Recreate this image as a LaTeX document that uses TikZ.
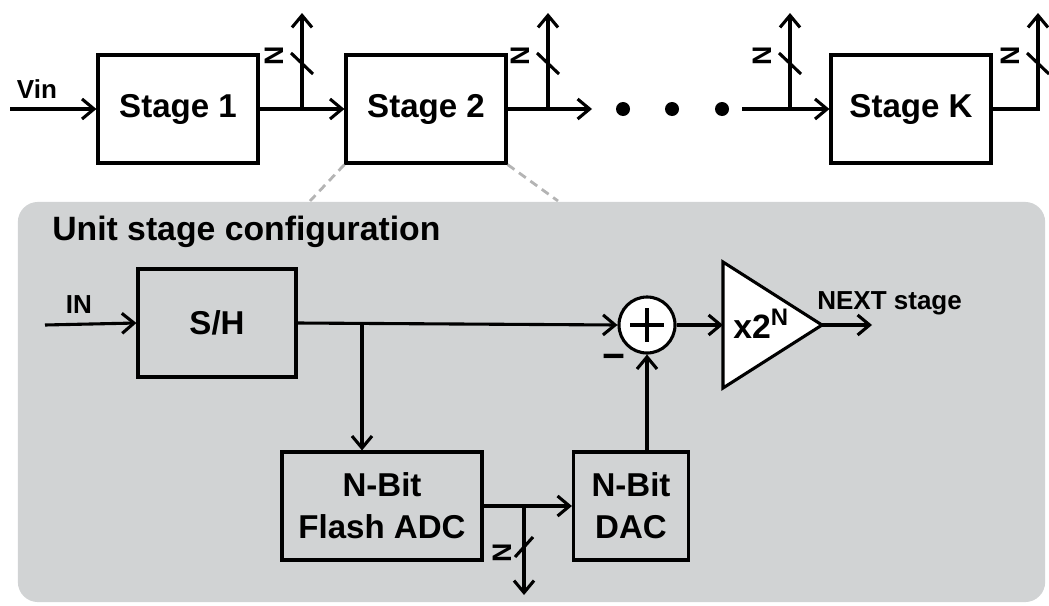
\documentclass[tikz,border=0pt]{standalone}
\usepackage{fontspec}
\setmainfont{Liberation Sans}
\usetikzlibrary{positioning,arrows.meta}
\definecolor{panelgray}{RGB}{209,211,212}
\definecolor{dashgray}{RGB}{180,180,180}

\begin{document}
\begin{tikzpicture}[
    x=0.025cm, y=-0.025cm,
    wire/.style={line width=2.2pt},
    sig/.style={wire, -{Straight Barb[length=3mm, width=5mm]}},
    blk/.style={draw, line width=2.2pt, minimum height=2.7cm, align=center,
        font=\fontsize{23.5}{30}\selectfont\bfseries},
    stagebox/.style={blk, fill=white, minimum width=4cm},
    lbl/.style={font=\fontsize{18.5}{20}\selectfont\bfseries, inner sep=0pt},
    nlab/.style={rotate=90, font=\fontsize{19}{19}\selectfont\bfseries, inner sep=0pt},
    dot/.style={circle, fill=black, minimum size=0.35cm, inner sep=0pt}
]
\useasboundingbox (0,0) rectangle (1049,605);

% pipeline
\node[stagebox] (s1) at (178,109) {Stage 1};
\node[stagebox] (s2) at (426,109) {Stage 2};
\node[stagebox] (sk) at (911,109) {Stage K};
\coordinate (vin) at (10,109);
\coordinate (top) at (0,13);
\coordinate (j1) at (302,109);
\coordinate (j2) at (548,109);
\coordinate (j3) at (790,109);
\coordinate (jk) at (1038,109);
\coordinate (dotsin) at (592,109);
\coordinate (dotsout) at (742,109);
\node[dot] (d1) at (623,109) {};
\node[dot] (d2) at (672,109) {};
\node[dot] (d3) at (722,109) {};

\node[lbl] (vinlbl) at (37,89) {Vin};
\draw[sig] (vin) -- (s1.west);
\draw[sig] (s1.east) -- (s2.west);
\draw[sig] (s2.east) -- (dotsin);
\draw[sig] (dotsout) -- (sk.west);
\draw[sig] (sk.east) -- (jk) -- (jk |- top);
\foreach \j in {j1,j2,j3} {
    \draw[sig] (\j) -- (\j |- top);
}
\foreach \j in {j1,j2,j3,jk} {
    \draw[wire] ([shift={(-11,-56)}]\j) -- ([shift={(11,-35)}]\j);
    \node[nlab] at ([shift={(-28,-53)}]\j) {N};
}

% zoom lines
\coordinate (pl) at (310,201);
\coordinate (pr) at (558,201);
\draw[dashgray, line width=2pt, dash pattern=on 6pt off 4pt] (s2.south west) -- (pl);
\draw[dashgray, line width=2pt, dash pattern=on 6pt off 4pt] (s2.south east) -- (pr);

% unit stage
\node[fill=panelgray, rounded corners=0.5cm, minimum width=25.675cm,
    minimum height=10cm, inner sep=0pt] (panel) at (531.5,402) {};
\node[anchor=base west, inner sep=0pt, font=\fontsize{24}{28}\selectfont\bfseries]
    (title) at (52,240) {Unit stage configuration};

\node[blk, minimum width=3.95cm] (sh) at (217,323) {S/H};
\node[blk, minimum width=5cm] (adc) at (382,506) {N-Bit\\Flash ADC};
\node[blk, minimum width=2.875cm] (dac) at (631,506) {N-Bit\\DAC};
\node[circle, draw, fill=white, line width=2.2pt, minimum size=1.4cm, inner sep=0pt]
    (sum) at (647,325) {};
\draw[wire] ([shift={(-17,0)}]sum.center) -- ([shift={(17,0)}]sum.center);
\draw[wire] ([shift={(0,-17)}]sum.center) -- ([shift={(0,17)}]sum.center);

\coordinate (ampin) at (723,325);
\coordinate (ampout) at (822,325);
\draw[wire, fill=white] (723,262) -- (ampout) -- (723,388) -- cycle;
\node[anchor=base west, inner sep=0pt, font=\fontsize{24}{28}\selectfont\bfseries]
    (amp) at (733,338) {x2\raisebox{9pt}{\fontsize{17}{17}\selectfont N}};

\coordinate (in) at (45,325);
\coordinate (j4) at (362,325);
\coordinate (j5) at (524,506);
\coordinate (bot) at (0,595);
\coordinate (next) at (872,325);

\node[lbl] (inlbl) at (79,305) {IN};
\draw[sig] (in) -- (sh.west);
\draw[sig] (sh.east) -- (sum.west);
\draw[sig] (j4) -- (j4 |- adc.north);
\draw[sig] (adc.east) -- (dac.west);
\draw[sig] (j5) -- (j5 |- bot);
\draw[wire] ([shift={(-9,51)}]j5) -- ([shift={(9,31)}]j5);
\node[nlab] at ([shift={(-22,47)}]j5) {N};
\draw[sig] (dac.north -| sum.south) -- (sum.south);
\node[font=\fontsize{28}{28}\selectfont\bfseries, inner sep=0pt] (minus) at (614,362) {−};
\draw[sig] (sum.east) -- (ampin);
\draw[sig] (ampout) -- (next);
\node[anchor=base west, inner sep=0pt, font=\fontsize{18.5}{20}\selectfont\bfseries]
    (nextlbl) at (817,309) {NEXT stage};
\end{tikzpicture}
\end{document}
